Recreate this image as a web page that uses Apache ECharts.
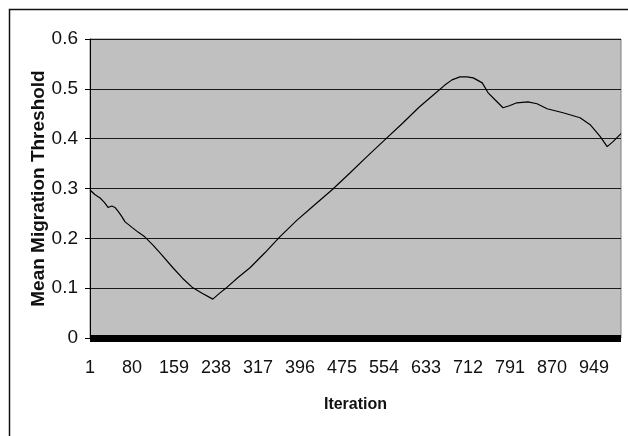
<!DOCTYPE html>
<html><head><meta charset="utf-8">
<script src="https://cdn.jsdelivr.net/npm/echarts@6/dist/echarts.min.js"></script>
<style>html,body{margin:0;padding:0;background:#fff}#c{width:628px;height:436px}</style>
</head><body><div id="c"></div>
<script>
const iterations = [1, 10, 20, 28, 35, 42, 48, 54, 60, 67, 80, 92, 104, 120, 136, 157, 175, 193, 212, 232, 245, 259, 280, 302, 330, 358, 390, 420, 456, 490, 520, 556, 590, 620, 654, 668, 682, 697, 710, 722, 739, 750, 763, 778, 790, 804, 825, 842, 861, 876, 891, 907, 923, 942, 961, 974, 985, 1000];
const thresholds = [0.297, 0.288, 0.281, 0.272, 0.262, 0.265, 0.262, 0.254, 0.245, 0.233, 0.222, 0.212, 0.203, 0.186, 0.167, 0.141, 0.120, 0.102, 0.090, 0.078, 0.090, 0.102, 0.122, 0.141, 0.171, 0.203, 0.236, 0.264, 0.297, 0.331, 0.362, 0.398, 0.432, 0.463, 0.494, 0.507, 0.518, 0.524, 0.524, 0.522, 0.512, 0.492, 0.478, 0.462, 0.466, 0.472, 0.474, 0.470, 0.460, 0.456, 0.452, 0.447, 0.442, 0.428, 0.404, 0.384, 0.394, 0.410];
const xTicks = [1, 80, 159, 238, 317, 396, 475, 554, 633, 712, 791, 870, 949];
const yTicks = [0, 0.1, 0.2, 0.3, 0.4, 0.5, 0.6];

const FONT = '"Liberation Sans", Arial, sans-serif';
const chart = echarts.init(document.getElementById('c'), null, {renderer: 'canvas'});
chart.setOption({
  animation: false,
  backgroundColor: '#fff',
  graphic: [{
    type: 'rect', left: 7, top: 7, silent: true,
    shape: {width: 700, height: 500},
    style: {fill: 'none', stroke: '#111', lineWidth: 1.5}
  }],
  grid: {left: 90, top: 39, right: 7, bottom: 98, show: true, backgroundColor: '#c0c0c0', borderColor: '#808080', borderWidth: 1},
  xAxis: {
    type: 'value', min: 1, max: 1000,
    name: 'Iteration', nameLocation: 'middle', nameGap: 55, nameMoveOverlap: false,
    nameTextStyle: {fontFamily: FONT, fontWeight: 'bold', fontSize: 16, color: '#111'},
    offset: 4,
    axisLine: {show: true, lineStyle: {color: '#000', width: 7, cap: 'butt'}},
    axisTick: {show: false},
    splitLine: {show: false},
    axisLabel: {customValues: xTicks, fontFamily: FONT, fontSize: 18, color: '#111', margin: 17, formatter: v => String(v)}
  },
  yAxis: {
    type: 'value', min: 0, max: 0.6, interval: 0.1,
    name: 'Mean Migration Threshold', nameLocation: 'middle', nameGap: 42, nameRotate: 90, nameMoveOverlap: false,
    nameTextStyle: {fontFamily: FONT, fontWeight: 'bold', fontSize: 19, color: '#111'},
    axisLine: {show: true, lineStyle: {color: '#000', width: 1}},
    axisTick: {show: true, inside: false, length: 5, lineStyle: {color: '#000'}},
    splitLine: {show: true, lineStyle: {color: '#1a1a1a', width: 1.2}},
    axisLabel: {fontFamily: FONT, fontSize: 19, color: '#111', margin: 12, formatter: v => {
      const t = yTicks.find(x => Math.abs(x - v) < 1e-9);
      return t === undefined ? '' : String(t);
    }}
  },
  series: [{
    type: 'line', showSymbol: false, symbol: 'none',
    data: iterations.map((it, i) => [it, thresholds[i]]),
    lineStyle: {color: '#000', width: 1.2}
  }]
});
</script></body></html>
